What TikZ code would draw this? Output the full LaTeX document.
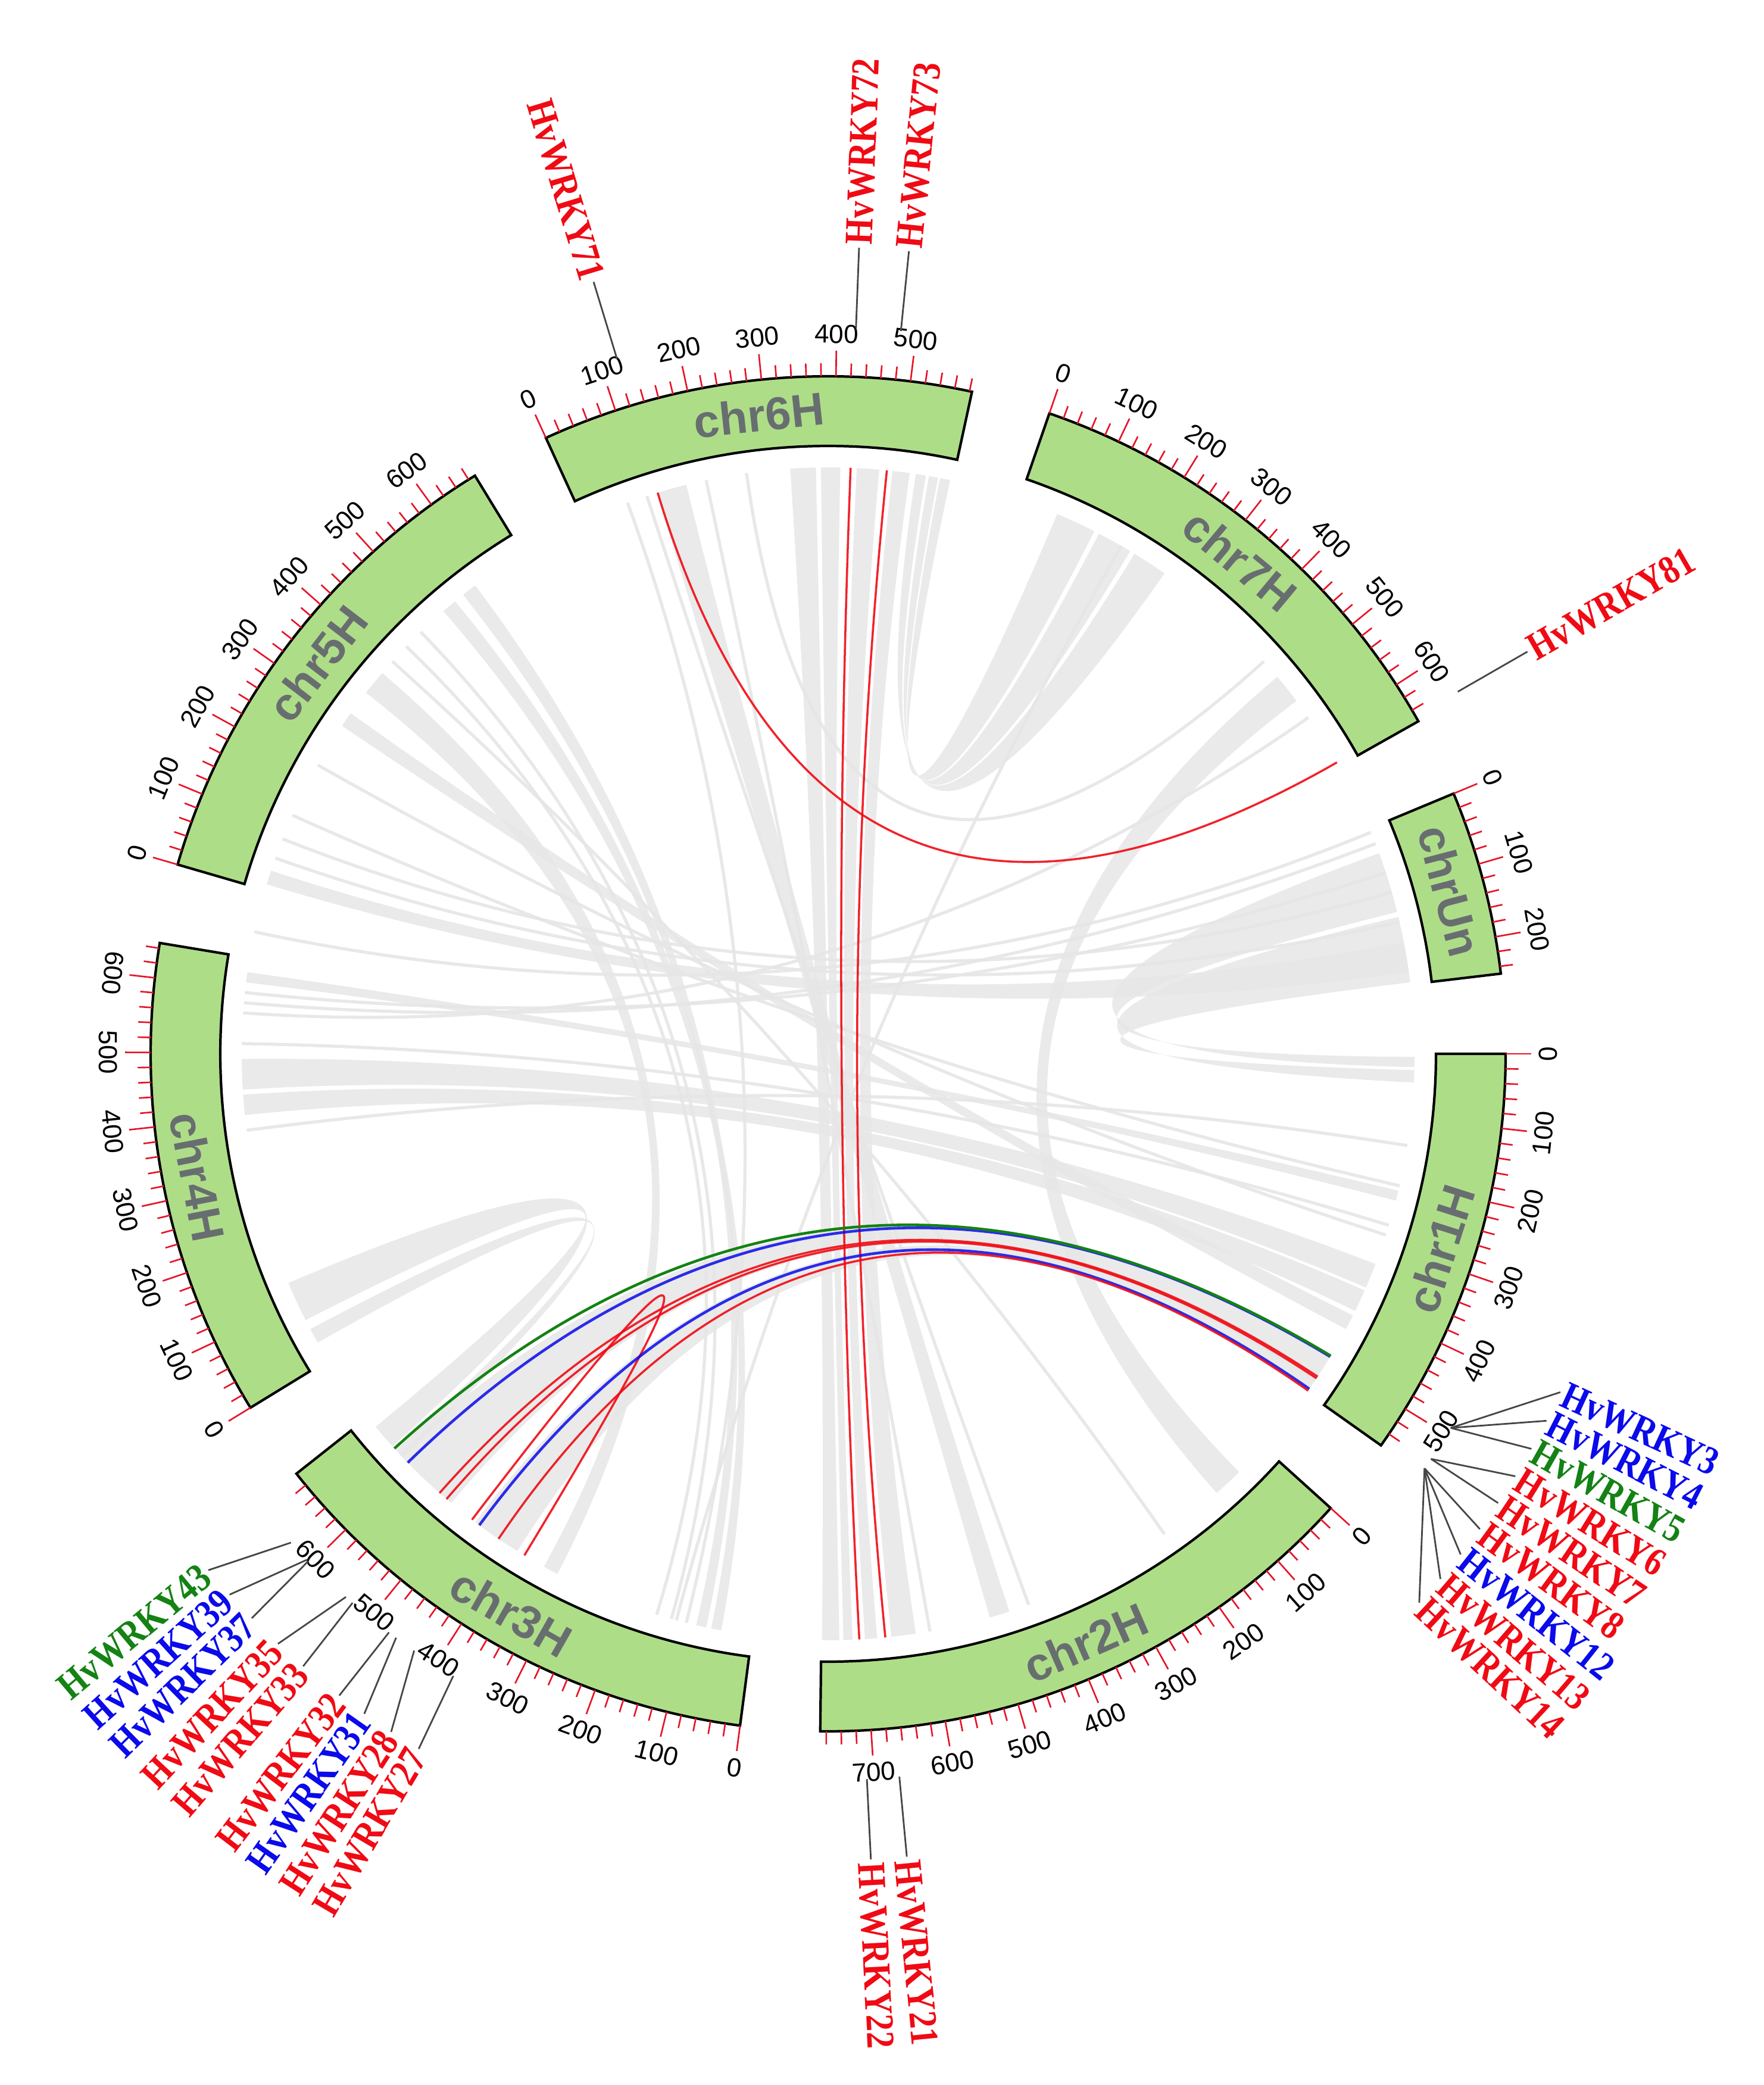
\documentclass[tikz,border=0pt]{standalone}
\usepackage{fontspec}
\usepackage{graphicx}
\setmainfont{Liberation Serif}
\setsansfont{Liberation Sans}
\newfontfamily\tickfont{Liberation Sans}
\newfontfamily\genefont{Liberation Serif}
\definecolor{chrgreen}{RGB}{174,221,136}
\definecolor{chrtext}{RGB}{104,110,112}
\definecolor{tickred}{RGB}{228,20,40}
\definecolor{glink}{RGB}{230,230,230}
\definecolor{wred}{RGB}{240,10,20}
\definecolor{wblue}{RGB}{10,10,235}
\definecolor{wgreen}{RGB}{20,130,20}
\definecolor{connc}{RGB}{70,70,70}
\def\kk{0.063221}
\def\Ri{10.21}
\def\Ro{11.38}
\def\RoM{11.81}
\def\Rom{11.60}
\def\Rl{9.85}
\def\Rc{3.2833}
% chromosome: #1 node name, #2 label, #3 start angle (clockwise from east), #4 length (Mb), #5 flip
\newcommand\chromo[5]{%
  \pgfmathsetmacro\cS{-#3}%
  \pgfmathsetmacro\cE{-(#3+\kk*#4)}%
  \filldraw[chrblock] (\cS:\Ri) arc[start angle=\cS, end angle=\cE, radius=\Ri] -- (\cE:\Ro) arc[start angle=\cE, end angle=\cS, radius=\Ro] -- cycle;
  \pgfmathtruncatemacro\cN{floor(#4/20)}%
  \foreach \i in {0,...,\cN}{%
    \pgfmathsetmacro\cT{-(#3+\kk*20*\i)}%
    \pgfmathtruncatemacro\cM{mod(\i,5)}%
    \ifnum\cM=0
      \draw[majtick] (\cT:\Ro) -- (\cT:\RoM);
      \pgfmathtruncatemacro\cL{20*\i}%
      \pgfmathsetmacro\cR{#5==1 ? \cT+90 : \cT-90}%
      \node[ticklab, rotate=\cR] at (\cT:12.09) {\cL};
    \else
      \draw[mintick] (\cT:\Ro) -- (\cT:\Rom);
    \fi
  }
  \pgfmathsetmacro\cMid{-(#3+\kk*#4/2)}%
  \pgfmathsetmacro\cQ{#5==1 ? \cMid+90 : \cMid-90}%
  \node[chrlab, rotate=\cQ] (#1) at (\cMid:10.795) {#2};
}
% gray ribbon between [#1,#2] and [#3,#4]
\newcommand\grib[4]{%
  \fill[grayrib] (-#1:\Rl) .. controls (-#1:\Rc) and (-#4:\Rc) .. (-#4:\Rl)
    arc[start angle=-#4, end angle=-#3, radius=\Rl]
    .. controls (-#3:\Rc) and (-#2:\Rc) .. (-#2:\Rl)
    arc[start angle=-#2, end angle=-#1, radius=\Rl] -- cycle;
}
\newcommand\glnk[2]{%
  \draw[graylk] (-#1:\Rl) .. controls (-#1:\Rc) and (-#2:\Rc) .. (-#2:\Rl);
}
\newcommand\clnk[3]{%
  \draw[#1] (-#2:\Rl) .. controls (-#2:\Rc) and (-#3:\Rc) .. (-#3:\Rl);
}
% gene label reading outward: id, text, colour, gene angle, label angle
\newcommand\geneO[5]{%
  \coordinate (#1i) at (-#4:12.2);
  \coordinate (#1o) at (-#5:13.55);
  \draw[conn] (#1i) -- (#1o);
  \node[genelab, text=#3, rotate=-#5, anchor=west] (#1) at (-#5:13.6) {\scalebox{0.85}[1]{#2}};
}
% gene label reading inward (left half)
\newcommand\geneI[5]{%
  \coordinate (#1i) at (-#4:12.2);
  \coordinate (#1o) at (-#5:13.55);
  \draw[conn] (#1i) -- (#1o);
  \pgfmathsetmacro\gRot{180-#5}%
  \node[genelab, text=#3, rotate=\gRot, anchor=east] (#1) at (-#5:13.6) {\scalebox{0.85}[1]{#2}};
}
\begin{document}
\begin{tikzpicture}[
  chrblock/.style={fill=chrgreen, draw=black, line width=1.2pt},
  majtick/.style={draw=tickred, line width=0.75pt},
  mintick/.style={draw=tickred, line width=0.75pt},
  ticklab/.style={font=\tickfont\fontsize{12.5}{12.5}\selectfont, inner sep=0pt, text=black},
  chrlab/.style={font=\sffamily\bfseries\fontsize{22}{22}\selectfont, text=chrtext, inner sep=0pt},
  genelab/.style={font=\genefont\bfseries\fontsize{19}{19}\selectfont, inner sep=0pt},
  conn/.style={draw=connc, line width=0.8pt},
  grayrib/.style={fill=glink, opacity=0.85},
  graylk/.style={draw=glink, line width=1.5pt, opacity=0.9},
  redlk/.style={draw=wred, line width=1pt, opacity=0.9},
  bluelk/.style={draw=wblue, line width=1.3pt, opacity=0.85},
  greenlk/.style={draw=wgreen, line width=1.3pt},
]
\useasboundingbox (-13.91,-17.32) rectangle (15.71,17.70);

% ---- gray collinearity ribbons ----
% chr6H - chr2H
\grib{266.3}{268.8}{88.9}{90.6}
\grib{269.3}{271.2}{87.6}{88.5}
\grib{272.8}{275.0}{85.2}{86.4}
\grib{276.3}{278.0}{81.4}{83.8}
% chr6H - chr7H
\grib{278.6}{279.6}{301.5}{305.0}
\grib{279.9}{280.8}{297.5}{301.0}
\grib{281.0}{282.0}{293.0}{297.0}
% chrUn - chr1H
\grib{340}{346}{360.3}{361.3}
\grib{346.5}{353}{361.6}{362.8}
% chr4H - chr1H
\grib{21}{23.5}{176.5}{179.5}
\grib{23.8}{26}{174}{176}
\grib{13.5}{14.5}{187}{188}
% chr4H - chr3H
\grib{138}{140.5}{153}{157}
\grib{136.5}{137.5}{150.5}{152}
% chr3H - chr1H
\grib{31}{34}{130}{137}
\grib{33.5}{35.2}{122}{127}
% chr5H - chr3H
\grib{100.5}{101.5}{229}{230.5}
\grib{102}{103}{231.5}{233}
\grib{117.5}{119}{218}{220.5}
% chr5H - chr1H
\grib{26.5}{28}{214}{215.5}
% chr7H - chr2H
\grib{45.5}{48.5}{320}{323}
% chr2H - chr6H
\grib{72}{74}{253}{256}
% chr5H - chrUn
\grib{196.8}{198.2}{349}{352}
% ---- thin gray links ----
\glnk{18}{209.5}
\glnk{9}{172.5}
\glnk{17}{181}
\glnk{201.5}{344}
\glnk{199.5}{347}
\glnk{105.5}{226}
\glnk{107}{224}
\glnk{250}{104}
\glnk{252}{70}
\glnk{318}{262}
\glnk{325}{184}
\glnk{80}{258}
\glnk{105}{300}
\glnk{55}{222}
\glnk{13}{204}
\glnk{339}{185}
\glnk{337.8}{192}
\glnk{186}{342}

% ---- WRKY duplicated pairs ----
\clnk{redlk}{33.4}{131.5}
\clnk{redlk}{33.6}{130.6}
\clnk{redlk}{127.4}{121.2}
\clnk{redlk}{272.2}{86.95}
\clnk{redlk}{275.75}{84.4}
\clnk{redlk}{253.1}{330.2}
\clnk{bluelk}{34.85}{126.5}
\clnk{redlk}{35.05}{124.2}
\clnk{bluelk}{31.1}{135.8}
\clnk{greenlk}{31.0}{137.7}

% ---- chromosomes ----
\chromo{c1}{chr1H}{0}{558.5}{1}
\chromo{c2}{chr2H}{42.11}{768.1}{1}
\chromo{c3}{chr3H}{97.47}{699.7}{1}
\chromo{c4}{chr4H}{148.51}{647.1}{1}
\chromo{c5}{chr5H}{196.22}{670.0}{0}
\chromo{c6}{chr6H}{245.38}{583.4}{0}
\chromo{c7}{chr7H}{289.06}{657.2}{0}
\chromo{cU}{chrUn}{337.41}{249.8}{0}

% ---- gene labels ----
\geneI{g71}{HvWRKY71}{wred}{253.1}{253.1}
\geneO{g72}{HvWRKY72}{wred}{272.2}{272.2}
\geneO{g73}{HvWRKY73}{wred}{275.75}{275.75}
\geneO{g81}{HvWRKY81}{wred}{330.1}{330.1}
\geneO{g3}{HvWRKY3}{wblue}{31.0}{24.8}
\geneO{g4}{HvWRKY4}{wblue}{31.0}{27.06}
\geneO{g5}{HvWRKY5}{wgreen}{31.0}{29.32}
\geneO{g6}{HvWRKY6}{wred}{33.9}{31.58}
\geneO{g7}{HvWRKY7}{wred}{33.9}{33.84}
\geneO{g8}{HvWRKY8}{wred}{34.8}{36.1}
\geneO{g12}{HvWRKY12}{wblue}{34.8}{38.36}
\geneO{g13}{HvWRKY13}{wred}{34.8}{40.62}
\geneO{g14}{HvWRKY14}{wred}{34.8}{42.88}
\geneO{g21}{HvWRKY21}{wred}{84.37}{84.4}
\geneO{g22}{HvWRKY22}{wred}{86.94}{86.96}
\geneI{g43}{HvWRKY43}{wgreen}{137.7}{140.2}
\geneI{g39}{HvWRKY39}{wblue}{135.85}{137.9}
\geneI{g37}{HvWRKY37}{wblue}{135.7}{135.6}
\geneI{g35}{HvWRKY35}{wred}{131.6}{133.0}
\geneI{g33}{HvWRKY33}{wred}{130.9}{130.6}
\geneI{g32}{HvWRKY32}{wred}{127.2}{127.3}
\geneI{g31}{HvWRKY31}{wblue}{126.5}{125.1}
\geneI{g28}{HvWRKY28}{wred}{124.75}{122.8}
\geneI{g27}{HvWRKY27}{wred}{121.07}{120.5}
\end{tikzpicture}
\end{document}
